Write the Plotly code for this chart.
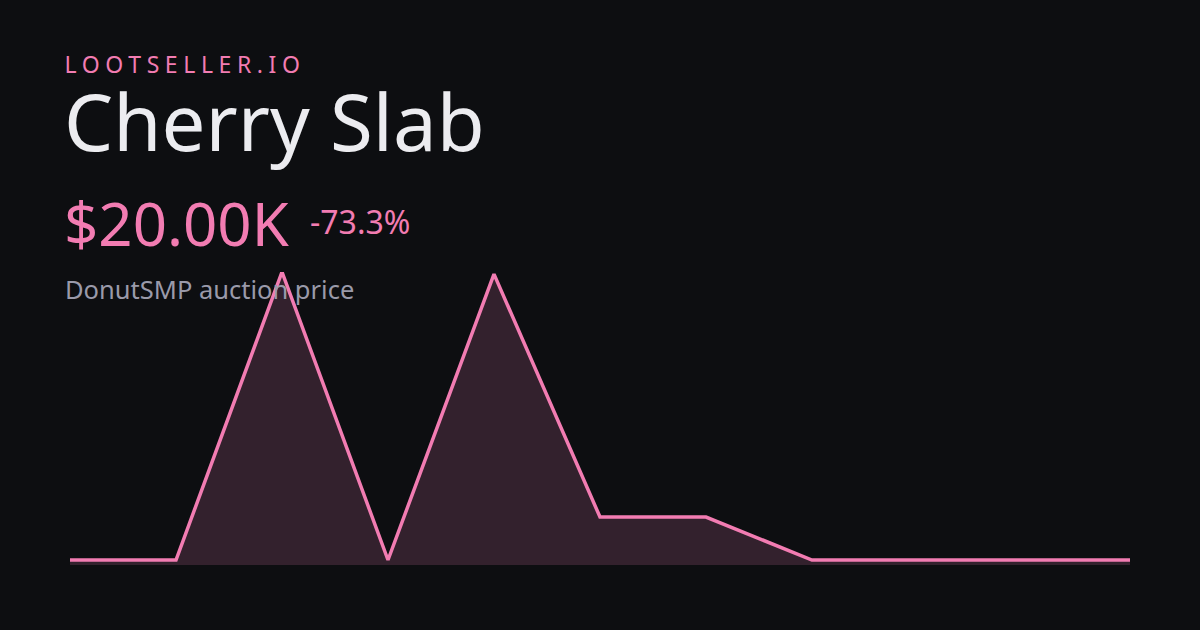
import plotly.graph_objects as go

days = list(range(11))
prices = [20000, 20000, 75000, 20000, 74600, 28200, 28200, 20000, 20000, 20000, 20000]
floor_price = 19045
brand = "LOOTSELLER.IO"
title = "Cherry Slab"
current = "$20.00K"
change = "-73.3%"
subtitle = "DonutSMP auction price"

pink = "#f27cb2"
bg = "#0d0e11"

fig = go.Figure()
fig.add_trace(go.Scatter(x=days, y=[floor_price] * len(days), mode="lines",
                         line=dict(width=0), hoverinfo="skip", showlegend=False))
fig.add_trace(go.Scatter(x=days, y=prices, mode="lines", fill="tonexty",
                         fillcolor="#33212d", line=dict(color=pink, width=3.5),
                         showlegend=False, cliponaxis=False))

# plot area spans px 70..1130 horizontally, 272..565 vertically
# brand x is offset because the letter spacing widens it around its centre
font = "Noto Sans"
ann = [
    dict(text=brand, x=99, y=64, size=23, color=pink),
    dict(text=title, x=62, y=121, size=78, color="#ececf0"),
    dict(text=current, x=62, y=223, size=60, color=pink),
    dict(text=change, x=308, y=221, size=32, color=pink),
    dict(text=subtitle, x=63, y=289, size=25.5, color="#9a9aaa"),
]
for a in ann:
    fig.add_annotation(text=a["text"], x=(a["x"] - 70) / 1060, y=(565 - a["y"]) / 293,
                       xref="paper", yref="paper", xanchor="left", yanchor="middle",
                       showarrow=False, font=dict(family=font, size=a["size"], color=a["color"]))

fig.update_layout(
    width=1200, height=630, paper_bgcolor=bg, plot_bgcolor=bg,
    margin=dict(l=70, r=70, t=272, b=65),
    xaxis=dict(visible=False, range=[0, 10]),
    yaxis=dict(visible=False, range=[floor_price, 75000]),
)
js = """document.body.style.margin='0';
document.querySelectorAll('.annotation-text').forEach(function(t){
  if (t.textContent === '%s') { t.style.letterSpacing = '5.6px'; }
});""" % brand
fig.write_html("out.html", post_script=js, config={"displayModeBar": False})
